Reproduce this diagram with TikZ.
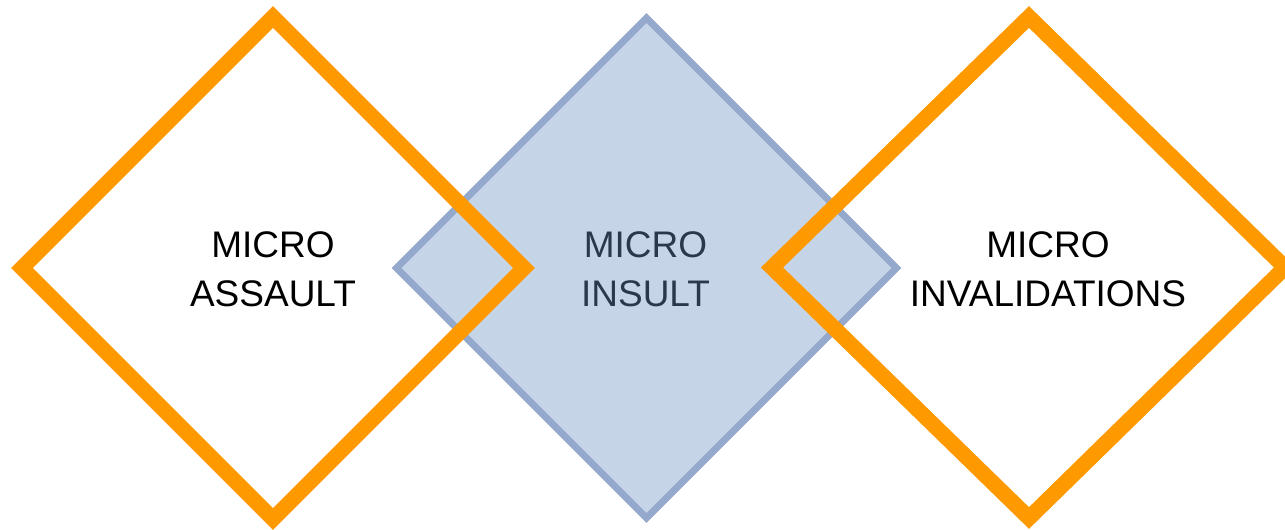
\documentclass[tikz,border=0pt]{standalone}
\usepackage{fontspec}
\setmainfont{Liberation Sans}
\definecolor{framorange}{RGB}{255,153,0}
\definecolor{insultline}{RGB}{148,169,203}
\definecolor{insultfill}{RGB}{198,212,231}
\definecolor{insulttext}{RGB}{42,56,78}
\tikzset{
  orangeframe/.style={draw=framorange, line width=15.5pt, line join=miter},
  blueframe/.style={draw=insultline, fill=insultfill, line width=7pt, line join=miter},
  label/.style={align=center, inner sep=0pt, font=\fontsize{37}{49}\selectfont},
}
\begin{document}
\begin{tikzpicture}[x=1pt, y=-1pt]
  \useasboundingbox (0,0) rectangle (1285,530);
  \clip (0,0) rectangle (1285,530);

  % corners of the three diamonds
  \coordinate (aT) at (273,17);  \coordinate (aR) at (524,268);
  \coordinate (aB) at (273,519); \coordinate (aL) at (22,268);
  \coordinate (bT) at (646.5,18);  \coordinate (bR) at (896.5,268);
  \coordinate (bB) at (646.5,518); \coordinate (bL) at (396.5,268);
  \coordinate (cT) at (1029,17);  \coordinate (cR) at (1285,267.5);
  \coordinate (cB) at (1029,518); \coordinate (cL) at (772,267.5);

  % middle diamond sits beneath the two orange frames
  \draw[blueframe] (bT) -- (bR) -- (bB) -- (bL) -- cycle;
  \draw[orangeframe] (aT) -- (aR) -- (aB) -- (aL) -- cycle;
  \draw[orangeframe] (cT) -- (cR) -- (cB) -- (cL) -- cycle;

  \node[label] (assault) at (273,269) {MICRO\\ASSAULT};
  \node[label, text=insulttext] (insult) at (645.5,269) {MICRO\\INSULT};
  \node[label] (invalid) at (1048,269) {MICRO\\INVALIDATIONS};
\end{tikzpicture}
\end{document}
